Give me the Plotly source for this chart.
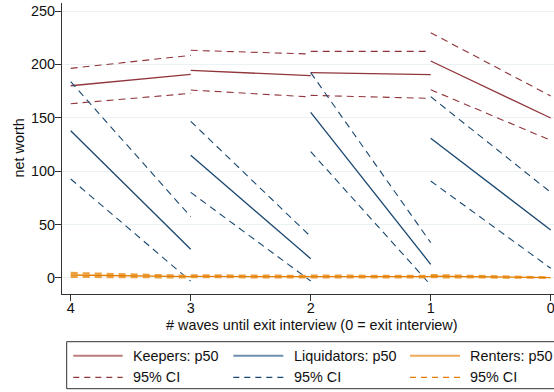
import plotly.graph_objects as go

# Transition waves: each segment runs from x_start to x_end
x_start = [4, 3, 2, 1]
x_end = [3, 2, 1, 0]

# Keepers
keepers_p50_start = [180.0, 194.5, 192.3, 203.2]
keepers_p50_end = [190.7, 189.4, 190.4, 149.8]
keepers_hi_start = [196.3, 213.2, 212.2, 229.7]
keepers_hi_end = [208.5, 209.7, 212.2, 170.4]
keepers_lo_start = [163.2, 176.0, 171.0, 176.3]
keepers_lo_end = [172.9, 169.5, 168.2, 128.9]

# Liquidators
liq_p50_start = [137.9, 114.9, 155.1, 130.8]
liq_p50_end = [26.9, 18.1, 12.8, 44.9]
liq_hi_start = [183.8, 146.7, 192.3, 169.8]
liq_hi_end = [57.4, 38.7, 33.1, 80.2]
liq_lo_start = [92.7, 80.2, 118.3, 90.8]
liq_lo_end = [-3.0, -2.8, -6.6, 9.1]

# Renters
rent_p50_start = [2.8, 1.5, 1.3, 1.6]
rent_p50_end = [1.2, 1.2, 1.2, 0.3]
rent_hi_start = [4.7, 2.5, 2.2, 2.8]
rent_hi_end = [2.0, 2.0, 2.0, 0.5]
rent_lo_start = [1.0, 0.8, 0.6, 0.7]
rent_lo_end = [0.5, 0.5, 0.5, 0.2]

y_ticks = [0, 50, 100, 150, 200, 250]
x_ticks = [4, 3, 2, 1, 0]

legend_labels = ["Keepers: p50", "Liquidators: p50", "Renters: p50",
                 "95% CI", "95% CI", "95% CI"]

MAROON = "#90353b"
NAVY = "#1a476f"
ORANGE = "#e37e00"
FONT = "Liberation Sans, Arial, sans-serif"
DASH = "7px,5px"


def segments(y0, y1):
    xs, ys = [], []
    for a, b, p, q in zip(x_start, x_end, y0, y1):
        xs += [a, b, None]
        ys += [p, q, None]
    return xs, ys


fig = go.Figure()

series = [
    (keepers_hi_start, keepers_hi_end, MAROON, DASH, 1.1),
    (keepers_lo_start, keepers_lo_end, MAROON, DASH, 1.1),
    (keepers_p50_start, keepers_p50_end, MAROON, "solid", 1.3),
    (liq_hi_start, liq_hi_end, NAVY, DASH, 1.1),
    (liq_lo_start, liq_lo_end, NAVY, DASH, 1.1),
    (liq_p50_start, liq_p50_end, NAVY, "solid", 1.3),
    (rent_hi_start, rent_hi_end, "#eda040", DASH, 2.2),
    (rent_lo_start, rent_lo_end, "#eda040", DASH, 2.2),
    (rent_p50_start, rent_p50_end, ORANGE, "solid", 1.3),
]
for y0, y1, col, dash, w in series:
    xs, ys = segments(y0, y1)
    fig.add_trace(go.Scatter(x=xs, y=ys, mode="lines", showlegend=False,
                             line=dict(color=col, dash=dash, width=w),
                             hoverinfo="skip"))

# Pixel-to-paper helpers for the frame below the plot
L, R_EDGE, T, B = 62, 554, 3, 294
PW, PH = R_EDGE - L, B - T


def px(x):
    return (x - L) / PW


def py(y):
    return (B - y) / PH


shapes = [
    dict(type="rect", xref="paper", yref="paper",
         x0=px(66.7), x1=px(575), y0=py(341.7), y1=py(388.7),
         line=dict(color="#333333", width=1), fillcolor="white", layer="above"),
]
annotations = []

legend_cols = [(73.3, 122.7, 131), (233.3, 283.3, 291.7), (410, 460, 468.3)]
legend_rows = [355.7, 377.3]
p50_colors = ["#bc7b7f", "#6f8fae", "#efa85a"]
ci_colors = [MAROON, NAVY, ORANGE]
for i, label in enumerate(legend_labels):
    row, col = divmod(i, 3)
    x0, x1, tx = legend_cols[col]
    yy = legend_rows[row]
    if row == 0:
        ln = dict(color=p50_colors[col], width=2)
    else:
        ln = dict(color=ci_colors[col], width=1.2, dash="6px,5px")
    shapes.append(dict(type="line", xref="paper", yref="paper",
                       x0=px(x0), x1=px(x1), y0=py(yy), y1=py(yy),
                       line=ln, layer="above"))
    annotations.append(dict(text=label, xref="paper", yref="paper",
                            x=px(tx), y=py(yy), xanchor="left", yanchor="middle",
                            showarrow=False,
                            font=dict(family=FONT, size=14.4, color="#111111")))

annotations.append(dict(text="# waves until exit interview (0 = exit interview)",
                        xref="paper", yref="paper", x=px(311.5), y=py(325),
                        xanchor="center", yanchor="middle", showarrow=False,
                        font=dict(family=FONT, size=14.4, color="#111111")))
annotations.append(dict(text="net worth", xref="paper", yref="paper",
                        x=px(18), y=py(148.5), xanchor="center", yanchor="middle",
                        textangle=-90, showarrow=False,
                        font=dict(family=FONT, size=14.4, color="#111111")))

fig.update_layout(
    width=554, height=392,
    margin=dict(l=L, r=554 - R_EDGE, t=T, b=392 - B),
    paper_bgcolor="white", plot_bgcolor="white",
    font=dict(family=FONT, size=14.4, color="#111111"),
    shapes=shapes, annotations=annotations,
    xaxis=dict(range=[4.0725, -0.0275], tickmode="array", tickvals=x_ticks,
               ticks="outside", ticklen=6, tickcolor="#333333",
               ticklabelstandoff=-5, ticklabeloverflow="allow",
               showline=True, linecolor="#333333", linewidth=1,
               showgrid=False, zeroline=False),
    yaxis=dict(range=[-15, 257.5], tickmode="array", tickvals=y_ticks,
               ticks="outside", ticklen=6, tickcolor="#333333",
               ticklabelstandoff=-3,
               showline=True, linecolor="#333333", linewidth=1,
               showgrid=True, gridcolor="#eaf2f3", gridwidth=1.2,
               zeroline=False),
    showlegend=False,
)

fig.write_html("out.html")
